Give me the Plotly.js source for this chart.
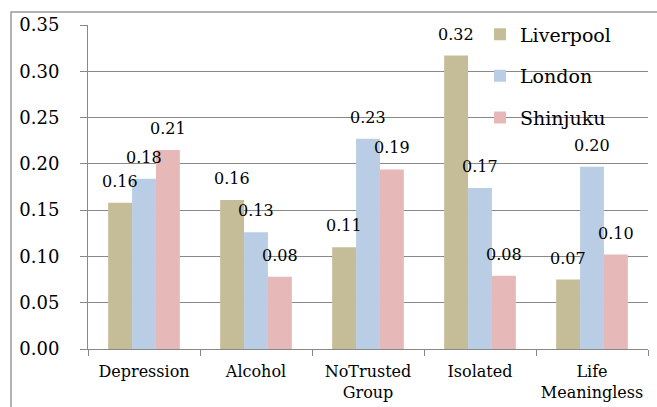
<!DOCTYPE html>
<html>
<head>
<meta charset="utf-8">
<script src="https://cdn.plot.ly/plotly-3.0.1.min.js"></script>
<style>html,body{margin:0;padding:0;background:#fff}#chart{width:657px;height:407px}</style>
</head>
<body>
<div id="chart"></div>
<script>
var categories = ["Depression", "Alcohol", "NoTrusted<br>Group", "Isolated", "Life<br>Meaningless"];
var seriesNames = ["Liverpool", "London", "Shinjuku"];
var liverpool = [0.158, 0.161, 0.110, 0.317, 0.075];
var london = [0.184, 0.126, 0.227, 0.174, 0.197];
var shinjuku = [0.215, 0.078, 0.194, 0.079, 0.102];
var colors = ["#C4BD97", "#B9CDE5", "#E6B9B8"];
var yTicks = [0, 0.05, 0.10, 0.15, 0.20, 0.25, 0.30, 0.35];

var FONT = "DejaVu Serif";
var W = 657, H = 407, ML = 88, MR = 9, MT = 25, MB = 58;
var BARGAP = 0.36;
var all = [liverpool, london, shinjuku];
var traces = all.map(function (vals, i) {
  return {
    type: "bar",
    name: seriesNames[i],
    x: categories,
    y: vals,
    marker: {color: colors[i]},
    legendgroup: "g" + i,
    hoverinfo: "none"
  };
});

var catW = (W - ML - MR) / categories.length;
var barW = catW * (1 - BARGAP) / all.length;
var annotations = [];
all.forEach(function (vals, i) {
  vals.forEach(function (v, j) {
    annotations.push({
      x: categories[j], y: v, xref: "x", yref: "y",
      text: v.toFixed(2), showarrow: false,
      xanchor: "center", yanchor: "bottom",
      xshift: (i - (all.length - 1) / 2) * barW, yshift: 10,
      font: {family: FONT, size: 16, color: "#000"}
    });
  });
});

var layout = {
  width: W, height: H,
  margin: {l: ML, r: MR, t: MT, b: MB},
  paper_bgcolor: "#fff", plot_bgcolor: "#fff",
  barmode: "group", bargap: BARGAP, bargroupgap: 0,
  font: {family: FONT, color: "#000"},
  showlegend: true,
  legend: {x: 0.70, y: 1.03, xanchor: "left", yanchor: "top",
           bgcolor: "rgba(0,0,0,0)", font: {family: FONT, size: 19},
           tracegroupgap: 14, traceorder: "grouped"},
  xaxis: {type: "category", tickson: "boundaries", ticks: "outside", ticklen: 6,
          tickcolor: "#888", showline: true, linecolor: "#888", linewidth: 1,
          tickfont: {family: FONT, size: 16}, showgrid: false, ticklabelstandoff: 8},
  yaxis: {range: [0, 0.35], tickvals: yTicks, tickformat: ".2f", ticks: "outside",
          ticklen: 7, tickcolor: "#888", showline: true, linecolor: "#888", linewidth: 1,
          showgrid: true, gridcolor: "#888", gridwidth: 1, zeroline: false,
          tickfont: {family: FONT, size: 18}, ticklabelstandoff: 17},
  annotations: annotations,
  shapes: [{type: "rect", xref: "paper", yref: "paper",
            x0: -0.1375, x1: 1.2, y0: -0.5, y1: 1.040,
            line: {color: "#999", width: 1.5}, fillcolor: "rgba(0,0,0,0)"}]
};

Plotly.newPlot("chart", traces, layout, {staticPlot: true, displayModeBar: false});
</script>
</body>
</html>
